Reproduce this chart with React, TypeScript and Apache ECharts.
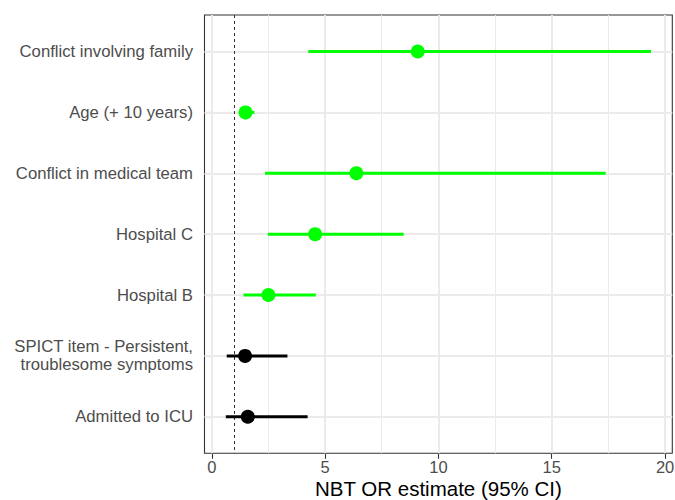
import React, { useEffect, useRef } from "react";
import * as echarts from "echarts";

const categories = [
  "Conflict involving family",
  "Age (+ 10 years)",
  "Conflict in medical team",
  "Hospital C",
  "Hospital B",
  "SPICT item - Persistent,\ntroublesome symptoms",
  "Admitted to ICU",
];
const estimates = [9.09, 1.49, 6.38, 4.56, 2.5, 1.47, 1.59];
const lower = [4.26, 1.2, 2.35, 2.47, 1.4, 0.66, 0.62];
const upper = [19.38, 1.88, 17.38, 8.47, 4.59, 3.34, 4.23];
const significant = [true, true, true, true, true, false, false];

const xMajorTicks = [0, 5, 10, 15, 20];
const xMinorTicks = [2.5, 7.5, 12.5, 17.5];
const referenceLine = 1;

const FONT = "Liberation Sans, Arial, sans-serif";

export default function App() {
  const ref = useRef<HTMLDivElement>(null);

  useEffect(() => {
    document.body.style.margin = "0";
    if (!ref.current) return;
    const chart = echarts.init(ref.current, undefined, { renderer: "svg" });

    const rows = categories.map((_, i) => i + 1);
    const data = categories.map((_, i) => [lower[i], estimates[i], upper[i], i + 1, significant[i] ? 1 : 0]);

    const option: any = {
      animation: false,
      backgroundColor: "#ffffff",
      grid: {
        left: 204.5,
        right: 2.7,
        top: 15,
        bottom: 46.7,
        outerBoundsMode: "none",
        containLabel: false,
        show: true,
        borderColor: "#333333",
        borderWidth: 1.1,
        backgroundColor: "transparent",
      },
      xAxis: {
        type: "value",
        min: -0.32,
        max: 20.32,
        name: "NBT OR estimate (95% CI)",
        nameLocation: "middle",
        nameGap: 25,
        nameMoveOverlap: false,
        nameTextStyle: { color: "#000000", fontSize: 20.5, fontFamily: FONT, verticalAlign: "top" },
        axisLine: { show: false },
        axisTick: {
          show: true,
          length: 5.5,
          customValues: xMajorTicks,
          lineStyle: { color: "#333333", width: 1.1 },
        },
        axisLabel: {
          customValues: xMajorTicks,
          color: "#4D4D4D",
          fontSize: 16.5,
          fontFamily: FONT,
          margin: 5.5,
        },
        splitLine: { show: false },
      },
      yAxis: {
        type: "value",
        min: 0.4,
        max: 7.6,
        inverse: true,
        axisLine: { show: false },
        axisTick: {
          show: true,
          length: 5.5,
          customValues: rows,
          lineStyle: { color: "#333333", width: 1.1 },
        },
        axisLabel: {
          customValues: rows,
          formatter: (v: number) => categories[Math.round(v) - 1] ?? "",
          color: "#4D4D4D",
          fontSize: 16.7,
          lineHeight: 18,
          fontFamily: FONT,
          margin: 11.5,
          align: "right",
        },
        splitLine: { show: false },
      },
      series: [
        {
          type: "line",
          data: [],
          silent: true,
          markLine: {
            silent: true,
            symbol: "none",
            label: { show: false },
            animation: false,
            data: [
              ...xMinorTicks.map((v) => ({ xAxis: v, lineStyle: { color: "#EBEBEB", width: 1, type: "solid" } })),
              ...xMajorTicks.map((v) => ({ xAxis: v, lineStyle: { color: "#EBEBEB", width: 2, type: "solid" } })),
              ...rows.map((v) => ({ yAxis: v, lineStyle: { color: "#EBEBEB", width: 2, type: "solid" } })),
            ],
          },
        },
        {
          type: "line",
          data: [],
          silent: true,
          z: 3,
          markLine: {
            silent: true,
            symbol: "none",
            label: { show: false },
            animation: false,
            data: [{ xAxis: referenceLine, lineStyle: { color: "#333333", width: 1, type: [3, 3] } }],
          },
        },
        {
          type: "custom",
          z: 5,
          encode: { x: [0, 1, 2], y: 3 },
          data,
          renderItem: (params: any, api: any) => {
            const y = api.value(3);
            const color = api.value(4) === 1 ? "#00FF00" : "#000000";
            const pl = api.coord([api.value(0), y]);
            const ph = api.coord([api.value(2), y]);
            const pc = api.coord([api.value(1), y]);
            return {
              type: "group",
              children: [
                {
                  type: "line",
                  shape: { x1: pl[0], y1: pl[1], x2: ph[0], y2: ph[1] },
                  style: { stroke: color, lineWidth: 3, lineCap: "butt" },
                },
                {
                  type: "circle",
                  shape: { cx: pc[0], cy: pc[1], r: 7 },
                  style: { fill: color },
                },
              ],
            };
          },
        },
      ],
    };

    chart.setOption(option);
    return () => chart.dispose();
  }, []);

  return <div ref={ref} style={{ width: 675, height: 500 }} />;
}
